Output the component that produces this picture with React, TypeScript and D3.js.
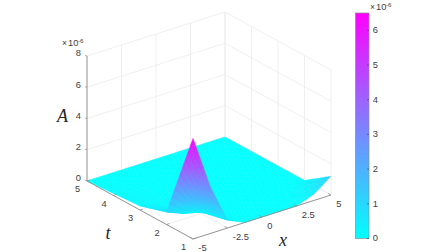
import React from 'react';
import * as d3 from 'd3';

const xGrid = [-5, -3.75, -2.5, -1.25, 0, 1.25, 2.5, 3.75, 5];
const tGrid = [5, 4, 3, 2, 1];
// A (x 1e-6), one row per t, one column per x
const surface = [
  [0, 0, 0, 0, 0, 0, 0, 0, 0],
  [0.13, 0.05, 0, 0, 0, 0, 0, 0, 0],
  [0.25, 0.1, 0.05, 0, 0, 0, 0, 0, 0],
  [0.8, 0.35, 0.1, 0.05, 0, 0, 0, 0, 0],
  [6.45, 3, 0.5, 0, 0, 0, 0, 0.4, 1.2],
];
const xTicks = [-5, -2.5, 0, 2.5, 5];
const xTickLabels = ['-5', '-2.5', '0', '2.5', '5'];
const tTicks = [1, 2, 3, 4, 5];
const aTicks = [0, 2, 4, 6, 8];
const cbTicks = [0, 1, 2, 3, 4, 5, 6];

const W = 448;
const H = 252;

// oblique projection: each data axis adds its own screen offset to the front corner
const ox = 193;
const oy = 239;
const xToX = d3.scaleLinear().domain([-5, 5]).range([0, 138]);
const xToY = d3.scaleLinear().domain([-5, 5]).range([0, -44]);
const tToX = d3.scaleLinear().domain([1, 5]).range([0, -106]);
const tToY = d3.scaleLinear().domain([1, 5]).range([0, -58]);
const aToY = d3.scaleLinear().domain([0, 8]).range([0, -125]);

const proj = (x: number, t: number, a: number): [number, number] => [
  ox + xToX(x) + tToX(t),
  oy + xToY(x) + tToY(t) + aToY(a),
];

const color = d3.scaleLinear<string>().domain([0, 6.45]).range(['#00ffff', '#ff00ff']);
const cbY = d3.scaleLinear().domain([0, 6.5]).range([238.5, 13]);
const line = d3.line();

const FONT = '"Liberation Sans", Arial, sans-serif';
const SERIF = '"Liberation Serif", serif';
const TXT = '#404040';
const AXIS = '#8c8c8c';
const GRID = '#ebebeb';
const SUB = 10;

const Patches = () => {
  const out: React.ReactElement[] = [];
  // rows run back to front so nearer cells paint over farther ones
  for (let r = 0; r < tGrid.length - 1; r++) {
    for (let c = xGrid.length - 2; c >= 0; c--) {
      for (let i = 0; i < SUB; i++) {
        for (let j = SUB - 1; j >= 0; j--) {
          const pt = (u: number, v: number) => {
            const x = xGrid[c] + (xGrid[c + 1] - xGrid[c]) * u;
            const t = tGrid[r] + (tGrid[r + 1] - tGrid[r]) * v;
            const a0 = surface[r][c] + (surface[r][c + 1] - surface[r][c]) * u;
            const a1 = surface[r + 1][c] + (surface[r + 1][c + 1] - surface[r + 1][c]) * u;
            const a = a0 + (a1 - a0) * v;
            return { p: proj(x, t, a), a };
          };
          const q = [
            pt(j / SUB, i / SUB),
            pt((j + 1) / SUB, i / SUB),
            pt((j + 1) / SUB, (i + 1) / SUB),
            pt(j / SUB, (i + 1) / SUB),
          ];
          const fill = color(d3.mean(q, d => d.a) as number);
          out.push(
            <path
              key={`${r}-${c}-${i}-${j}`}
              d={line(q.map(d => d.p)) + 'Z'}
              fill={fill}
              stroke={fill}
              strokeWidth={0.4}
            />
          );
        }
      }
    }
  }
  return <g>{out}</g>;
};

const Exponent = ({ x, y }: { x: number; y: number }) => (
  <g fill={TXT}>
    <text x={x} y={y} fontSize={8.5}>×</text>
    <text x={x + 6} y={y} fontSize={9.3}>10</text>
    <text x={x + 16} y={y - 2.8} fontSize={6.2}>-6</text>
  </g>
);

export default function App() {
  const gridSeg = (a: [number, number, number], b: [number, number, number], k: string) => (
    <path key={k} d={line([proj(...a), proj(...b)]) as string} stroke={GRID} strokeWidth={0.8} fill="none" />
  );
  const gradId = 'cb';
  return (
    <svg
      width={W}
      height={H}
      style={{ position: 'absolute', left: 0, top: 0, background: '#fff' }}
      fontFamily={FONT}
    >
      <defs>
        <linearGradient id={gradId} x1="0" y1="1" x2="0" y2="0">
          <stop offset="0" stopColor={color(0)} />
          <stop offset="1" stopColor={color(6.45)} />
        </linearGradient>
      </defs>

      {/* back walls */}
      {xTicks.map(x => gridSeg([x, 5, 0], [x, 5, 8], `wx${x}`))}
      {tTicks.map(t => gridSeg([5, t, 0], [5, t, 8], `wt${t}`))}
      {aTicks.map(a => gridSeg([-5, 5, a], [5, 5, a], `ax${a}`))}
      {aTicks.map(a => gridSeg([5, 5, a], [5, 1, a], `at${a}`))}
      {/* floor */}
      {xTicks.map(x => gridSeg([x, 1, 0], [x, 5, 0], `fx${x}`))}
      {tTicks.map(t => gridSeg([-5, t, 0], [5, t, 0], `ft${t}`))}

      <Patches />

      {/* axis lines */}
      <path d={line([proj(-5, 5, 8), proj(-5, 5, 0), proj(-5, 1, 0), proj(5, 1, 0)]) as string} fill="none" stroke={AXIS} strokeWidth={0.9} />

      {aTicks.map(a => {
        const [px, py] = proj(-5, 5, a);
        return (
          <g key={`a${a}`}>
            <line x1={px - 2} y1={py - 0.6} x2={px} y2={py} stroke={AXIS} strokeWidth={0.7} />
            <text x={px - 6} y={py - 2} textAnchor="end" dominantBaseline="middle" fontSize={9.3} fill={TXT}>{a}</text>
          </g>
        );
      })}
      {tTicks.map(t => {
        const [px, py] = proj(-5, t, 0);
        return (
          <g key={`t${t}`}>
            <line x1={px} y1={py} x2={px + 3} y2={py - 1} stroke={AXIS} strokeWidth={0.7} />
            <text x={px - 9.5} y={py + 9} textAnchor="middle" dominantBaseline="middle" fontSize={9.3} fill={TXT}>{t}</text>
          </g>
        );
      })}
      {xTicks.map((x, i) => {
        const [px, py] = proj(x, 1, 0);
        return (
          <g key={`x${x}`}>
            <line x1={px} y1={py} x2={px - 3} y2={py - 1.6} stroke={AXIS} strokeWidth={0.7} />
            <text x={px + 5.3} y={py + 9.5} dominantBaseline="middle" fontSize={9.3} fill={TXT}>{xTickLabels[i]}</text>
          </g>
        );
      })}

      <Exponent x={62} y={46} />

      <text x={57} y={121.5} fontSize={18} fontStyle="italic" fontFamily={SERIF} fill="#262626">A</text>
      <text x={105.5} y={238.5} fontSize={18} fontStyle="italic" fontFamily={SERIF} fill="#262626">t</text>
      <text x={279} y={246} fontSize={18} fontStyle="italic" fontFamily={SERIF} fill="#262626">x</text>

      {/* colorbar */}
      <rect x={355.5} y={13} width={13.5} height={225.5} fill={`url(#${gradId})`} stroke={AXIS} strokeWidth={0.7} />
      {cbTicks.map(v => (
        <g key={`cb${v}`}>
          <line x1={367} x2={369} y1={cbY(v)} y2={cbY(v)} stroke="#404040" strokeWidth={0.6} />
          <text x={372.7} y={cbY(v) + 0.5} dominantBaseline="middle" fontSize={9.3} fill={TXT}>{v}</text>
        </g>
      ))}
      <Exponent x={370} y={9.5} />
    </svg>
  );
}
